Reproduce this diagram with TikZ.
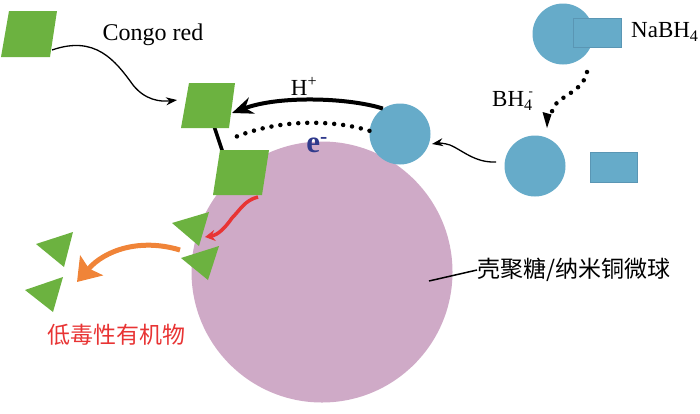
\documentclass[tikz,border=0pt]{standalone}
\usepackage{fontspec}
\setmainfont{Liberation Serif}
\newfontfamily\cjk{Noto Sans CJK SC}
\usetikzlibrary{arrows.meta}
\definecolor{grn}{RGB}{108,178,64}
\definecolor{pur}{RGB}{207,170,199}
\definecolor{blu}{RGB}{102,171,201}
\definecolor{bluedge}{RGB}{90,150,180}
\definecolor{org}{RGB}{240,132,56}
\definecolor{rd}{RGB}{232,52,52}
\definecolor{nvy}{RGB}{48,58,140}
\begin{document}
\begin{tikzpicture}[x=1pt,y=-1pt,
  font=\fontsize{23}{25}\selectfont,
  ball/.style={circle, fill=blu, inner sep=0pt, minimum size=61pt},
  bar/.style={fill=blu, draw=bluedge, line width=0.4pt},
  dye/.style={fill=grn},
  dots/.style={line width=4.5pt, line cap=round, dash pattern=on 0pt off 9pt},
  thinarrow/.style={line width=1.3pt, -{Stealth[length=11pt,width=8pt]}},
  lbl/.style={inner sep=0pt}]
\useasboundingbox (0,0) rectangle (700,413);

% microsphere
\node[circle, fill=pur, inner sep=0pt, minimum size=261pt] (sphere) at (322,272) {};

% black link between adsorbed dyes
\draw[line width=3.5pt] (214,126) -- (223,153);

% Congo red parallelograms
\fill[dye] (9,11) -- (57,11) -- (50,57) -- (1,57) -- cycle;
\fill[dye] (189,83) -- (235,83) -- (229,128) -- (181,128) -- cycle;
\fill[dye] (220,150) -- (269,150) -- (262,195) -- (213,195) -- cycle;
\coordinate (p1) at (52,50);
\coordinate (p2) at (177,100);
\coordinate (p2e) at (232,113);
\coordinate (p2d) at (233,138);
\coordinate (p3) at (258,197);

% triangles (products)
\fill[dye] (172,223) -- (209,212) -- (199,246) -- cycle;
\fill[dye] (181,258) -- (219,246) -- (208,280) -- cycle;
\fill[dye] (36,244) -- (73,232) -- (64,267) -- cycle;
\fill[dye] (25,290) -- (63,277) -- (53,312) -- cycle;
\coordinate (t1) at (205,237);
\coordinate (t2) at (180,250);
\coordinate (t3) at (77,282);

% borohydride
\node[ball] (c1) at (563,34) {};
\draw[bar] (573,18) rectangle (621,47);
\node[ball] (c2) at (535,166) {};
\draw[bar] (590,152) rectangle (637,182);
\node[ball] (c3) at (400,134) {};
\coordinate (c1o) at (587,72);
\coordinate (c2i) at (547,128);
\coordinate (c2o) at (496,162);
\coordinate (c3i) at (432,144);

% labels
\node[lbl, font=\fontsize{24}{26}\selectfont] (congo) at (153,35) {Congo red};
\node[lbl, anchor=west] (nabh) at (631,32) {NaBH\textsubscript{4}};
\node[lbl, anchor=west] (bh) at (492,101) {BH\textsubscript{4}\hspace{-4pt}\raisebox{11pt}{\fontsize{13}{13}\selectfont -}};
\node[lbl] (hplus) at (304,86) {H\textsuperscript{+}};
\node[lbl, text=nvy, font=\fontsize{31}{32}\selectfont\bfseries] (elec) at (317,145) {e\textsuperscript{-}};
\node[lbl, text=rd, font=\fontsize{23}{25}\selectfont\cjk] (prod) at (116,335) {低毒性有机物};
\node[lbl, anchor=west, font=\fontsize{23}{25}\selectfont\cjk] (cat) at (477,270) {壳聚糖/纳米铜微球};
\coordinate (lead) at (429,281);
\draw[line width=1.5pt] (lead) -- (cat.west);

% arrows
\draw[thinarrow] (p1) .. controls (95,35) and (115,60) .. (133,85)
  .. controls (145,100) and (160,102) .. (p2);
\draw[line width=4pt, -{Stealth[length=21pt,width=17pt]}]
  (c3.124) .. controls (350,98) and (280,95) .. (p2e);
\draw[dots] (c3.174) .. controls (335,120) and (280,118) .. (p2d);
\draw[dots, shorten >=12pt] (c1o) .. controls (583,92) and (560,95) .. (553,108) -- (c2i);
\fill (c2i) -- ++(-4.5,-16) -- ++(9,2.5) -- cycle;
\draw[thinarrow] (c2o) .. controls (475,163) and (462,150) .. (450,145)
  .. controls (444,143) and (438,143) .. (c3i);
\draw[rd, line width=3.5pt, -{Stealth[length=10pt,width=11pt]}]
  (p3) .. controls (245,200) and (240,210) .. (232,218)
  .. controls (225,228) and (218,235) .. (t1);
\draw[org, line width=5pt, -{Stealth[length=22pt,width=30pt,inset=4pt]}]
  (t2) .. controls (140,238) and (105,250) .. (t3);
\end{tikzpicture}
\end{document}
